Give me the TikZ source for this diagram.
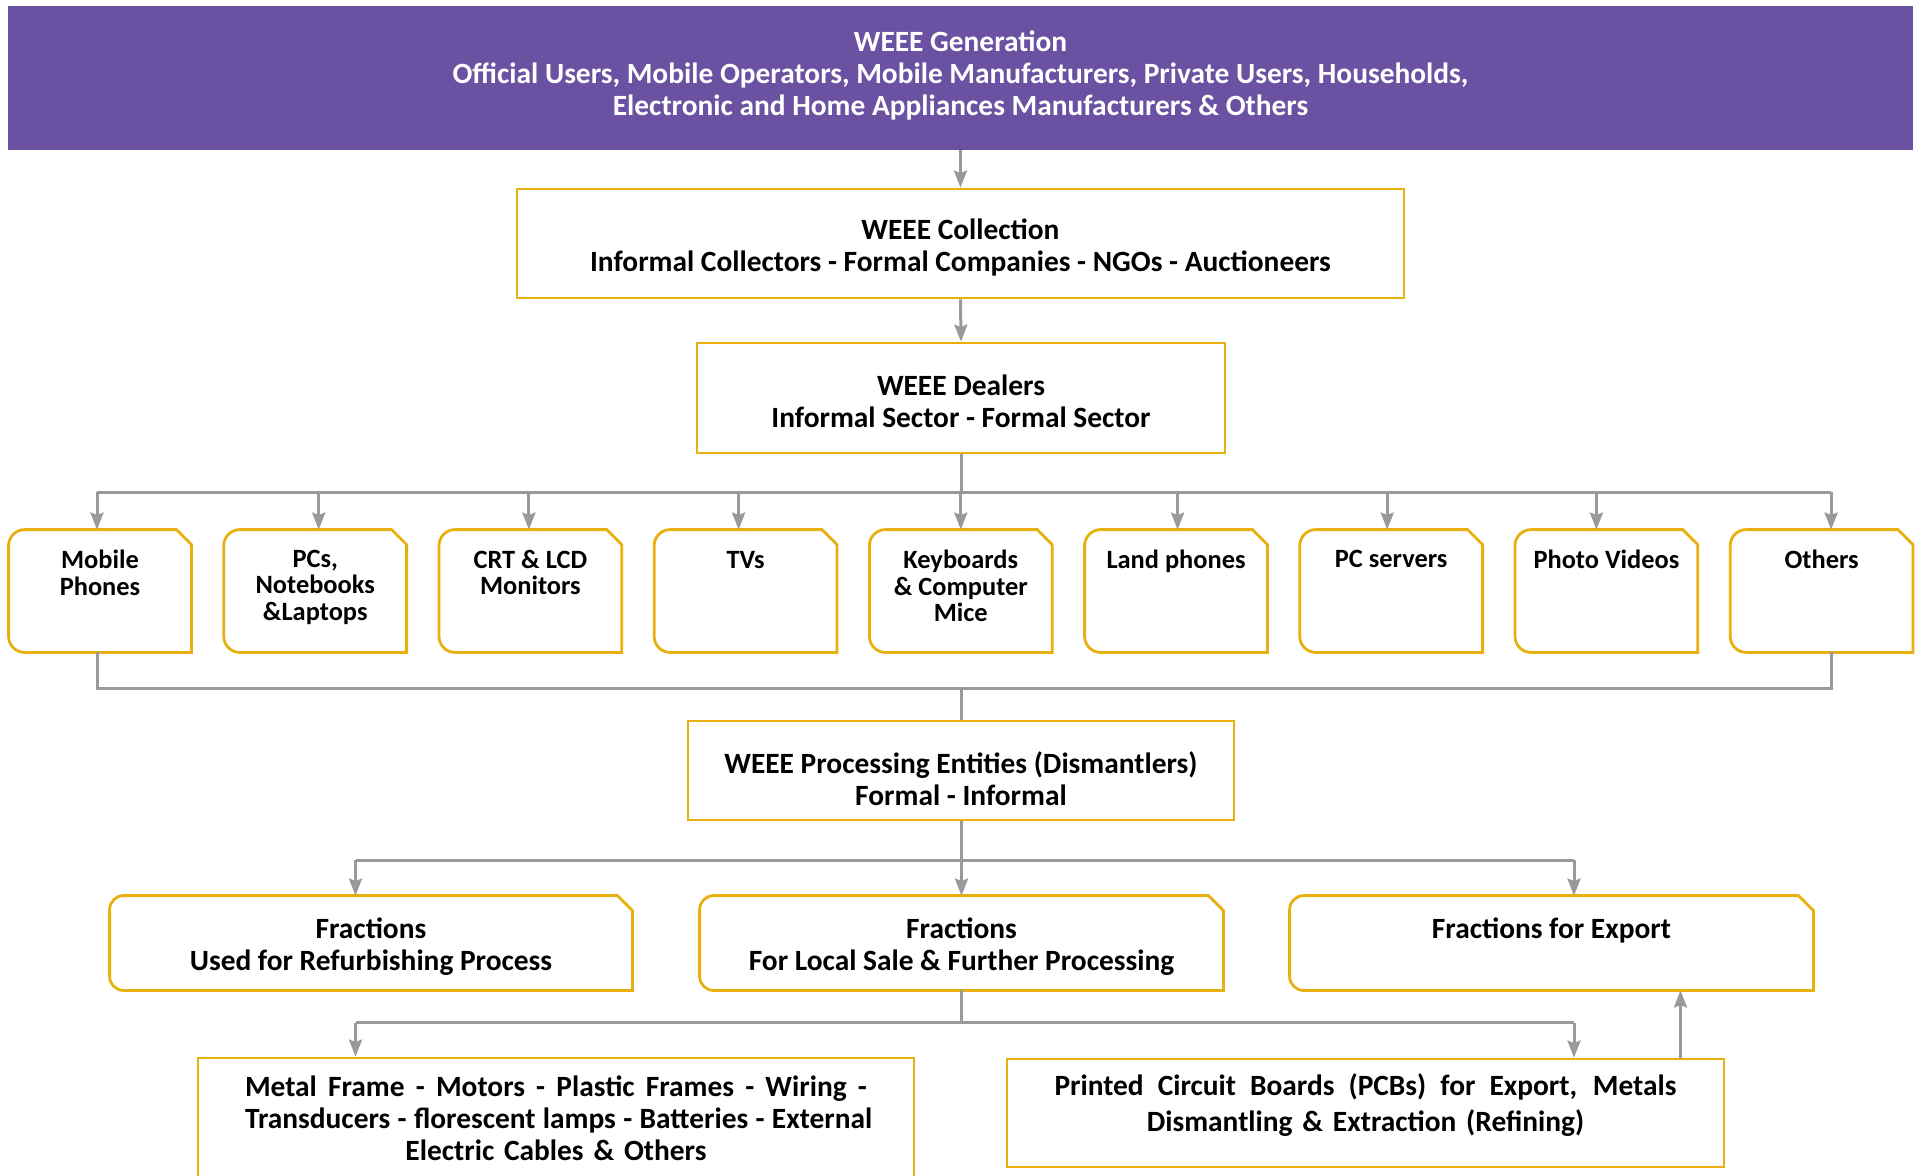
\documentclass[tikz,border=0pt]{standalone}
\usepackage{fontspec}
\setmainfont{Carlito}
\usetikzlibrary{arrows.meta,calc}
\definecolor{wpurple}{HTML}{6A51A2}
\definecolor{wgold}{HTML}{E8B00F}
\definecolor{wgrey}{HTML}{98989D}
\newcommand\cutoutline[3]{\draw[wgold, line width=1.4pt] (#1.south east) -- ([xshift=#2]#1.south west) arc[start angle=270,end angle=180,radius=#2] -- ([yshift=-#2]#1.north west) arc[start angle=180,end angle=90,radius=#2] -- ([xshift=-#3]#1.north east) -- ([yshift=-#3]#1.north east) -- cycle;}
\newcommand\spreadline[2]{\makebox[#1][s]{\spaceskip=0.25em plus 1fil\relax #2}}
\begin{document}
\begin{tikzpicture}[x=0.5pt,y=-0.5pt,
  banner/.style={fill=wpurple, minimum width=952.5pt, minimum height=72pt, inner sep=0pt},
  bannertext/.style={text=white, align=center, inner sep=0pt, font=\bfseries\fontsize{14.7}{16}\selectfont},
  box/.style={draw=wgold, line width=1.4pt, inner sep=0pt},
  boxtext/.style={align=center, inner sep=0pt, font=\bfseries\fontsize{14.7}{16}\selectfont},
  frame/.style={draw=none, inner sep=0pt},
  cattext/.style={anchor=north, align=center, inner sep=0pt, font=\bfseries\fontsize{13.2}{13.3}\selectfont},
  fractext/.style={anchor=north, align=center, inner sep=0pt, font=\bfseries\fontsize{14.7}{16}\selectfont},
  conn/.style={draw=wgrey, line width=1.5pt},
  arr/.style={conn, -{Stealth[length=8.5pt,width=6.5pt,inset=1.2pt]}}]
\useasboundingbox (0,0) rectangle (1923,1175);
% top banner
\node[banner] (gen) at (960.5,78) {};
\node[bannertext] (gent) at (960.5,75) {WEEE Generation\\Official Users, Mobile Operators, Mobile Manufacturers, Private Users, Households,\\Electronic and Home Appliances Manufacturers \& Others};
\node[box, minimum width=443.5pt, minimum height=54.5pt] (coll) at (960.5,243.5) {};
\node[boxtext] (collt) at (960.5,247) {WEEE Collection\\Informal Collectors - Formal Companies - NGOs - Auctioneers};
\node[box, minimum width=264pt, minimum height=55pt] (deal) at (961,398) {};
\node[boxtext] (dealt) at (961,401.5) {WEEE Dealers\\Informal Sector - Formal Sector};
% categories
\foreach \i in {1,...,9}{
  \node[frame, minimum width=91pt, minimum height=61pt] (c\i) at ({100+215.2*(\i-1)},591) {};
  \cutoutline{c\i}{8pt}{7.5pt}
}
\node[cattext] (t1) at ([yshift=-10pt]c1.north) {Mobile\\Phones};
\node[cattext] (t2) at ([yshift=-10pt]c2.north) {PCs,\\Notebooks\\\&Laptops};
\node[cattext] (t3) at ([yshift=-10pt]c3.north) {CRT \& LCD\\Monitors};
\node[cattext] (t4) at ([yshift=-10.8pt]c4.north) {TVs};
\node[cattext] (t5) at ([yshift=-10pt]c5.north) {Keyboards\\\& Computer\\Mice};
\node[cattext] (t6) at ([yshift=-10pt]c6.north) {Land phones};
\node[cattext] (t7) at ([yshift=-10pt]c7.north) {PC servers};
\node[cattext] (t8) at ([yshift=-10pt]c8.north) {Photo Videos};
\node[cattext] (t9) at ([yshift=-10pt]c9.north) {Others};
% processing
\node[box, minimum width=273pt, minimum height=49.5pt] (proc) at (961,770.5) {};
\node[boxtext] (proct) at (961,779) {WEEE Processing Entities (Dismantlers)\\Formal - Informal};
% fractions
\node[frame, minimum width=261pt, minimum height=47pt] (f1) at (371,943) {};
\node[frame, minimum width=261.5pt, minimum height=47pt] (f2) at (961.5,943) {};
\node[frame, minimum width=261.5pt, minimum height=47pt] (f3) at (1551.5,943) {};
\cutoutline{f1}{7pt}{7.5pt}
\cutoutline{f2}{7pt}{7.5pt}
\cutoutline{f3}{7pt}{7.5pt}
\node[fractext] (ft1) at ([yshift=-11pt]f1.north) {Fractions\\Used for Refurbishing Process};
\node[fractext] (ft2) at ([yshift=-11pt]f2.north) {Fractions\\For Local Sale \& Further Processing};
\node[fractext] (ft3) at ([yshift=-11pt]f3.north) {Fractions for Export};
% bottom boxes
\node[box, minimum width=358pt, minimum height=66pt] (b1) at (556,1124) {};
\node[boxtext, text width=311pt] (bt1) at (556,1118) {\spreadline{311pt}{Metal Frame - Motors - Plastic Frames - Wiring -}\\\spreadline{311pt}{Transducers - florescent lamps - Batteries - External}\\Electric Cables \& Others};
\node[box, minimum width=358.5pt, minimum height=54pt] (b2) at (1365.5,1113) {};
\node[boxtext, text width=311pt] (bt2) at (1365.5,1105) {\spreadline{311pt}{Printed Circuit Boards (PCBs) for Export, Metals}\\[2pt]Dismantling \& Extraction (Refining)};
% connectors
\draw[arr] (gen.south) -- (coll.north);
\draw[arr] (coll.south) -- (deal.north);
\coordinate (bus1) at (960,492);
\coordinate (bus2) at (960,688);
\coordinate (bus3) at (960,860);
\coordinate (bus4) at (960,1022.7);
\draw[conn] (deal.south) -- (deal.south |- bus1);
\foreach \i/\dx in {1/-1.5,2/1.75,3/-0.75,4/-3.5,5/0,6/0.8,7/-2,8/-5,9/4.75}{
  \coordinate (a\i) at ([xshift=\dx pt]c\i.north);
  \coordinate (s\i) at ([xshift=\dx pt]c\i.south);
  \draw[arr] (a\i |- bus1) -- (a\i);
}
\draw[conn] (a1 |- bus1) -- (a9 |- bus1);
\draw[conn] (s1) -- (s1 |- bus2) -- (s9 |- bus2) -- (s9);
\draw[conn] (proc.north |- bus2) -- (proc.north);
\draw[conn] (proc.south) -- (proc.south |- bus3);
\coordinate (g1) at ([xshift=-7.75pt]f1.north);
\coordinate (g3) at ([xshift=11.25pt]f3.north);
\draw[conn] (g1 |- bus3) -- (g3 |- bus3);
\draw[arr] (g1 |- bus3) -- (g1);
\draw[arr] (f2.north |- bus3) -- (f2.north);
\draw[arr] (g3 |- bus3) -- (g3);
\draw[conn] (f2.south) -- (f2.south |- bus4);
\coordinate (h1) at (b1.north -| g1);
\coordinate (h2) at (b2.north -| g3);
\draw[conn] (h1 |- bus4) -- (h2 |- bus4);
\draw[arr] (h1 |- bus4) -- (h1);
\draw[arr] (h2 |- bus4) -- (h2);
\coordinate (u) at ([xshift=157.5pt]b2.north);
\draw[arr] (u) -- (u |- f3.south);
\end{tikzpicture}
\end{document}
